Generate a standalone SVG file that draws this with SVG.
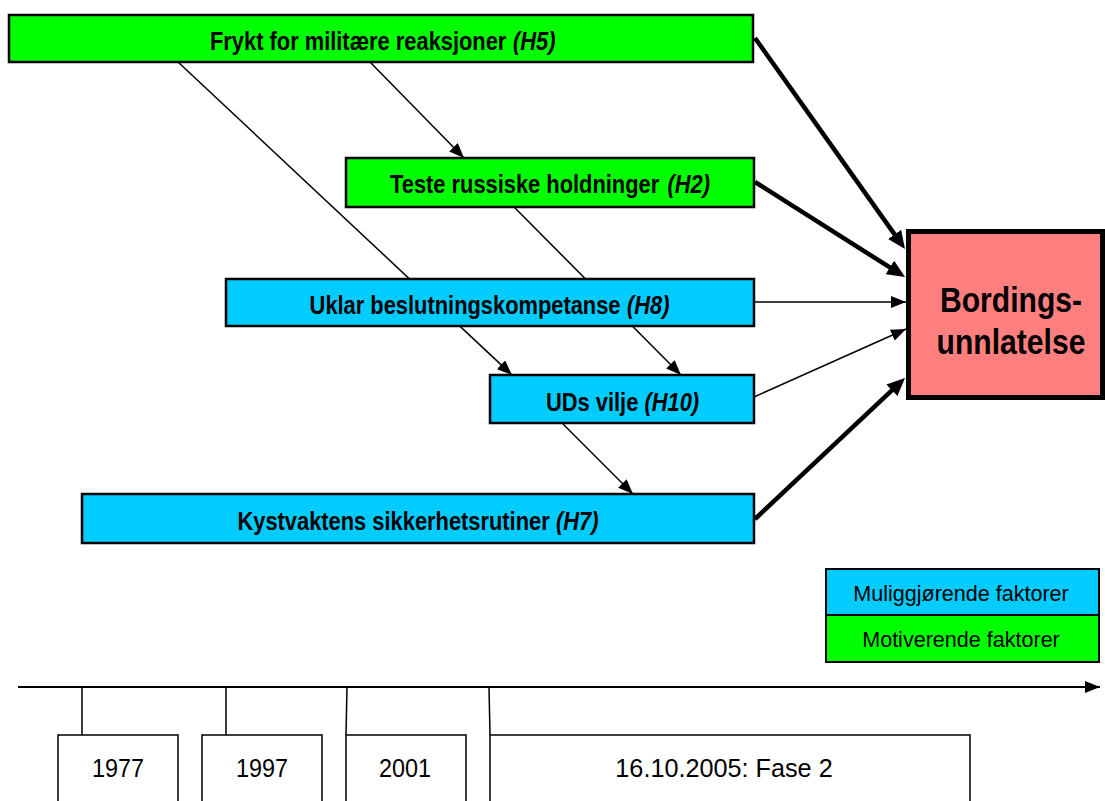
<svg xmlns="http://www.w3.org/2000/svg" width="1105" height="801" viewBox="0 0 1105 801">
<style>
.node{stroke:#000;stroke-width:2.5}
.green{fill:#00FF00}
.blue{fill:#00CCFF}
.lbl{font-family:"Liberation Sans",Arial,sans-serif;font-weight:bold;font-size:25px;fill:#000}
.it{font-style:italic}
.big{font-family:"Liberation Sans",Arial,sans-serif;font-weight:bold;font-size:35px;fill:#000;text-anchor:middle}
.reg{font-family:"Liberation Sans",Arial,sans-serif;font-size:22px;fill:#000;text-anchor:middle}
.yr{font-size:26px}
.thin{stroke:#000;stroke-width:1.5;fill:none;marker-end:url(#ah)}
.thick{stroke:#000;stroke-width:4.5;fill:none;marker-end:url(#ahb)}
.tl{stroke:#000;stroke-width:1.5;fill:none}
.tbox{fill:#fff;stroke:#000;stroke-width:1.5}
</style>
<defs>
<marker id="ah" markerUnits="userSpaceOnUse" markerWidth="15" markerHeight="12" refX="15" refY="6" orient="auto">
<path d="M0,0 L15,6 L0,12 z" fill="#000"/>
</marker>
<marker id="ahb" markerUnits="userSpaceOnUse" markerWidth="18" markerHeight="16" refX="8" refY="8" orient="auto">
<path d="M0,0 L18,8 L0,16 z" fill="#000"/>
</marker>
</defs>
<rect width="1105" height="801" fill="#fff"/>

<g id="connectors">
<line class="thin" x1="178" y1="62" x2="512" y2="375"/>
<line class="thin" x1="370" y1="62" x2="464" y2="158"/>
<line class="thin" x1="514" y1="207" x2="681" y2="375"/>
<line class="thin" x1="562" y1="423" x2="633" y2="494"/>
<line class="thin" x1="754" y1="302" x2="906" y2="302"/>
<line class="thin" x1="754" y1="397" x2="906" y2="329"/>
<line class="thick" x1="755" y1="38" x2="899.2" y2="240.9"/>
<line class="thick" x1="755" y1="182" x2="896.6" y2="271.7"/>
<line class="thick" x1="755" y1="519" x2="897.7" y2="384.9"/>
</g>

<g id="h5">
<rect class="node green" x="9" y="15" width="744" height="47"/>
<text class="lbl" transform="translate(210,50) scale(0.875,1)">Frykt for militære reaksjoner</text>
<text class="lbl it" transform="translate(513,50) scale(0.875,1)">(H5)</text>
</g>
<g id="h2">
<rect class="node green" x="346" y="158" width="408" height="49"/>
<text class="lbl" transform="translate(390,193) scale(0.875,1)">Teste russiske holdninger</text>
<text class="lbl it" transform="translate(667.5,193) scale(0.875,1)">(H2)</text>
</g>
<g id="h8">
<rect class="node blue" x="226" y="279" width="528" height="47"/>
<text class="lbl" transform="translate(309.6,314) scale(0.875,1)">Uklar beslutningskompetanse</text>
<text class="lbl it" transform="translate(627,314) scale(0.875,1)">(H8)</text>
</g>
<g id="h10">
<rect class="node blue" x="490" y="375" width="264" height="48"/>
<text class="lbl" transform="translate(546,411) scale(0.875,1)">UDs vilje</text>
<text class="lbl it" transform="translate(644.5,411) scale(0.875,1)">(H10)</text>
</g>
<g id="h7">
<rect class="node blue" x="82" y="494" width="672" height="49"/>
<text class="lbl" transform="translate(237.5,530) scale(0.875,1)">Kystvaktens sikkerhetsrutiner</text>
<text class="lbl it" transform="translate(556,530) scale(0.875,1)">(H7)</text>
</g>
<g id="target">
<rect x="908.5" y="231.5" width="194" height="166" fill="#FF7F7F" stroke="#000" stroke-width="5"/>
<text class="big" transform="translate(1011,312) scale(0.86,1)">Bordings-</text>
<text class="big" transform="translate(1011,354) scale(0.86,1)">unnlatelse</text>
</g>

<g id="legend">
<rect class="blue" x="826" y="569" width="273" height="46" stroke="#000" stroke-width="2"/>
<rect class="green" x="826" y="615" width="273" height="47" stroke="#000" stroke-width="2"/>
<text class="reg" transform="translate(961,601) scale(0.98,1)">Muliggjørende faktorer</text>
<text class="reg" transform="translate(961,647) scale(0.98,1)">Motiverende faktorer</text>
</g>

<g id="timeline">
<line x1="18" y1="687" x2="1100" y2="687" stroke="#000" stroke-width="2" marker-end="url(#ah)"/>
<line class="tl" x1="82" y1="687" x2="82" y2="735"/>
<line class="tl" x1="226" y1="687" x2="226" y2="735"/>
<line class="tl" x1="347" y1="687" x2="346" y2="735"/>
<line class="tl" x1="489" y1="687" x2="490" y2="735"/>
</g>
<g id="y1977">
<rect class="tbox" x="58" y="735" width="120" height="80"/>
<text class="reg yr" transform="translate(118,777) scale(0.9,1)">1977</text>
</g>
<g id="y1997">
<rect class="tbox" x="202" y="735" width="120" height="80"/>
<text class="reg yr" transform="translate(262,777) scale(0.9,1)">1997</text>
</g>
<g id="y2001">
<rect class="tbox" x="346" y="735" width="120" height="80"/>
<text class="reg yr" transform="translate(405,777) scale(0.9,1)">2001</text>
</g>
<g id="y2005">
<rect class="tbox" x="490" y="735" width="480" height="80"/>
<text class="reg yr" transform="translate(724,777) scale(0.97,1)">16.10.2005: Fase 2</text>
</g>
</svg>
